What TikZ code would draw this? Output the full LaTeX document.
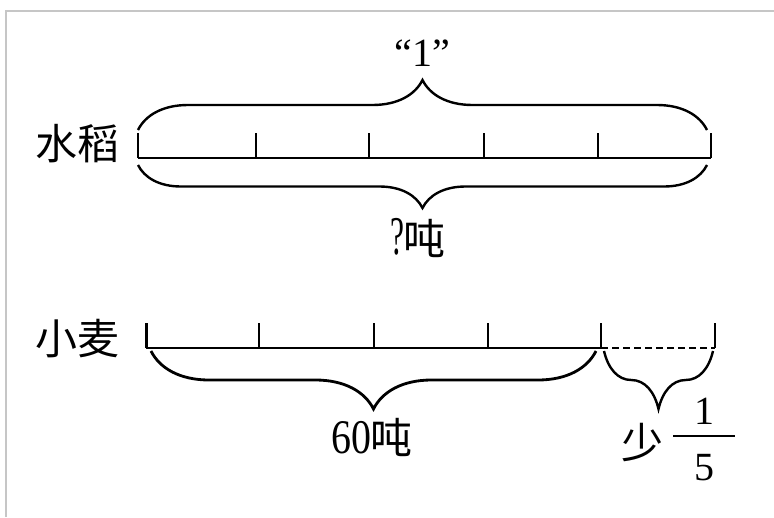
\documentclass[tikz,border=0pt]{standalone}
\usepackage{fontspec}
\setmainfont{Liberation Serif}
\newfontfamily\cjk{Noto Sans CJK SC}
\usetikzlibrary{decorations.pathreplacing}
\begin{document}
\begin{tikzpicture}[x=1pt,y=-1pt,
  bar/.style={line width=1.7pt},
  tickline/.style={line width=1.5pt},
  bup/.style={decorate,decoration={brace,amplitude=#1},line width=2.4pt},
  bdown/.style={decorate,decoration={brace,mirror,amplitude=#1},line width=2.4pt},
  cn/.style={font=\cjk\fontsize{42}{42}\selectfont, inner sep=0pt},
  num/.style={font=\fontsize{40}{40}\selectfont, inner sep=0pt},
]
\useasboundingbox (0,0) rectangle (774,517);
\draw[gray!45, line width=2pt] (6,517) -- (6,10.5) -- (774,10.5);

% top bar
\coordinate (t0) at (138,158);
\coordinate (t1) at (256,158);
\coordinate (t2) at (369,158);
\coordinate (t3) at (484,158);
\coordinate (t4) at (598,158);
\coordinate (t5) at (711,158);
\draw[bar] (t0) -- (t5);
\foreach \i in {0,...,5} \draw[tickline] (t\i) -- ++(0,-25);

% bottom bar
\coordinate (b0) at (146,348);
\coordinate (b1) at (259,348);
\coordinate (b2) at (374,348);
\coordinate (b3) at (488,348);
\coordinate (b4) at (601,348);
\coordinate (b5) at (715,348);
\draw[bar] (b0) -- (b4);
\draw[bar, dash pattern=on 7pt off 4pt] (b4) -- (b5);
\draw[line width=3pt] (b0) -- ++(0,-25);
\foreach \i in {1,...,5} \draw[tickline] (b\i) -- ++(0,-25);

% braces
\coordinate (tbl) at (138,130);
\coordinate (tbr) at (707,130);
\draw[bup=50] (tbl) -- (tbr);
\coordinate (bbl) at (138,165);
\coordinate (bbr) at (707,165);
\draw[bdown=43] (bbl) -- (bbr);
\coordinate (wbl) at (151,351);
\coordinate (wbr) at (596,351);
\draw[bdown=58, line width=2.8pt] (wbl) -- (wbr);
\coordinate (sbl) at (604,351);
\coordinate (sbr) at (713,351);
\draw[bdown=58] (sbl) -- (sbr);

% texts
\node[num] (one) at (422,53) {“1”};
\node[cn] (rice) at (77,144) {水稻};
\node[cn] (wheat) at (77,339) {小麦};
\node[cn] (qt) at (418,238) {{\rmfamily\scalebox{0.75}[1.3]{?}}吨};
\node[cn] (sixty) at (372,437) {{\rmfamily\scalebox{0.95}[1.15]{60}}吨};
\node[cn] (less) at (642,443) {少};
\node[num] (f1) at (704,411) {1};
\node[num] (f5) at (704,468) {5};
\coordinate (fl) at (673,436);
\coordinate (fr) at (735,436);
\draw[line width=1.6pt] (fl) -- (fr);
\end{tikzpicture}
\end{document}
